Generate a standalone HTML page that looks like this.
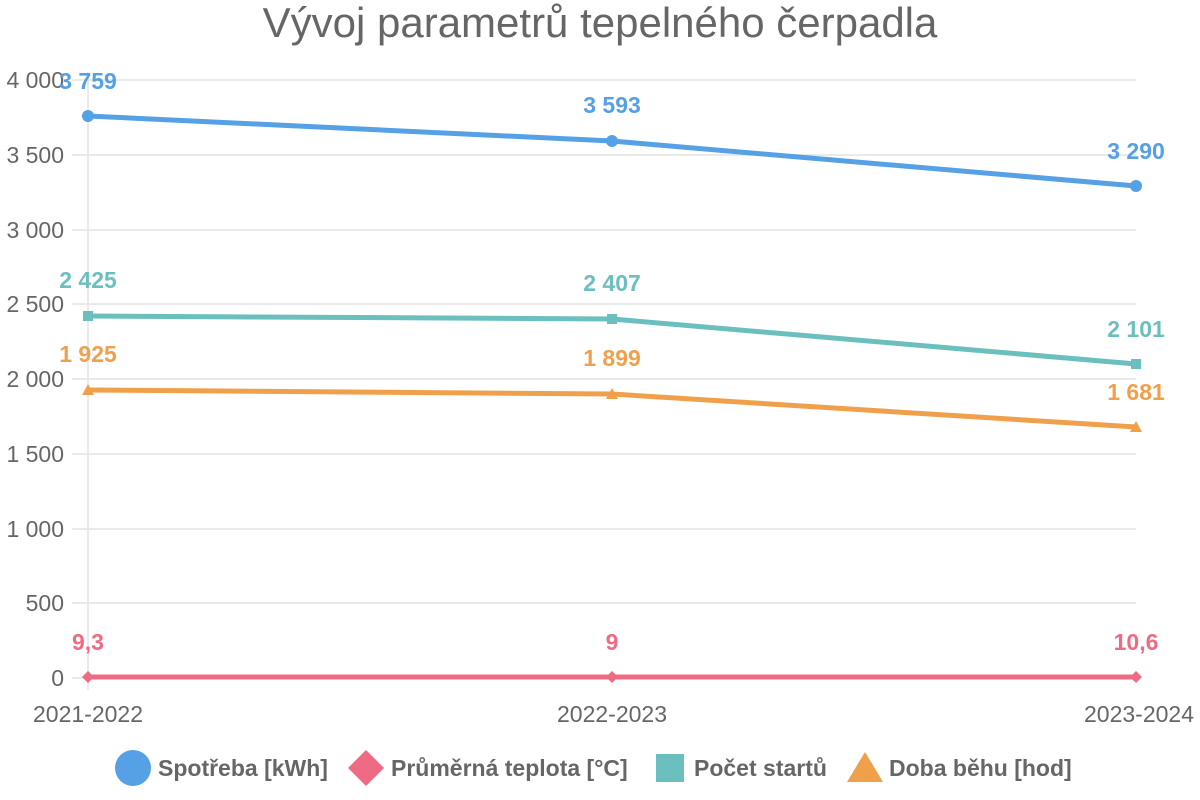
<!DOCTYPE html>
<html><head><meta charset="utf-8"><style>
html,body{margin:0;padding:0;background:#fff;}
svg{display:block;font-family:"Liberation Sans",sans-serif;}
</style></head><body>
<svg width="1200" height="800" viewBox="0 0 1200 800">
<text x="600" y="37" text-anchor="middle" font-size="42" fill="#666">Vývoj parametrů tepelného čerpadla</text>
<g stroke="#e4e4e4" stroke-width="1.5">
<line x1="72" y1="80" x2="1136" y2="80"/>
<line x1="72" y1="155" x2="1136" y2="155"/>
<line x1="72" y1="230" x2="1136" y2="230"/>
<line x1="72" y1="304" x2="1136" y2="304"/>
<line x1="72" y1="379" x2="1136" y2="379"/>
<line x1="72" y1="454" x2="1136" y2="454"/>
<line x1="72" y1="529" x2="1136" y2="529"/>
<line x1="72" y1="603" x2="1136" y2="603"/>
<line x1="72" y1="678" x2="1136" y2="678"/>
<line x1="88" y1="72" x2="88" y2="690"/>
</g>
<g font-size="23" fill="#666" text-anchor="end">
<text x="64" y="88">4 000</text>
<text x="64" y="163">3 500</text>
<text x="64" y="238">3 000</text>
<text x="64" y="312">2 500</text>
<text x="64" y="387">2 000</text>
<text x="64" y="462">1 500</text>
<text x="64" y="537">1 000</text>
<text x="64" y="611">500</text>
<text x="64" y="686">0</text>
</g>
<g font-size="23" fill="#666">
<text x="88" y="722" text-anchor="middle">2021-2022</text>
<text x="612" y="722" text-anchor="middle">2022-2023</text>
<text x="1194" y="722" text-anchor="end">2023-2024</text>
</g>
<g fill="none" stroke-width="5" stroke-linejoin="round">
<polyline points="88,116 612,141 1136,186" stroke="#56a0e5"/>
<polyline points="88,316 612,319 1136,364" stroke="#6bbfbf"/>
<polyline points="88,390 612,394 1136,427" stroke="#f0a04b"/>
<polyline points="88,677 612,677 1136,677" stroke="#ef6b84"/>
</g>
<g fill="#56a0e5"><circle cx="88" cy="116" r="6"/><circle cx="612" cy="141" r="6"/><circle cx="1136" cy="186" r="6"/></g>
<g fill="#6bbfbf"><rect x="83" y="311" width="10" height="10"/><rect x="607" y="314" width="10" height="10"/><rect x="1131" y="359" width="10" height="10"/></g>
<g fill="#f0a04b"><polygon points="88,384 94,395 82,395"/><polygon points="612,388 618,399 606,399"/><polygon points="1136,421 1142,432 1130,432"/></g>
<g fill="#ef6b84"><polygon points="88,671 94,677 88,683 82,677"/><polygon points="612,671 618,677 612,683 606,677"/><polygon points="1136,671 1142,677 1136,683 1130,677"/></g>
<g font-size="23" font-weight="bold" text-anchor="middle">
<g fill="#56a0e5"><text x="88" y="89">3 759</text><text x="612" y="113">3 593</text><text x="1136" y="159">3 290</text></g>
<g fill="#6bbfbf"><text x="88" y="288">2 425</text><text x="612" y="291">2 407</text><text x="1136" y="337">2 101</text></g>
<g fill="#f0a04b"><text x="88" y="362">1 925</text><text x="612" y="366">1 899</text><text x="1136" y="400">1 681</text></g>
<g fill="#ef6b84"><text x="88" y="650">9,3</text><text x="612" y="650">9</text><text x="1136" y="650">10,6</text></g>
</g>
<g font-size="23" font-weight="bold" fill="#666">
<circle cx="133" cy="768" r="18" fill="#56a0e5"/>
<text x="158" y="776">Spotřeba [kWh]</text>
<polygon points="366,750 384,768 366,786 348,768" fill="#ef6b84"/>
<text x="391" y="776">Průměrná teplota [°C]</text>
<rect x="656" y="754" width="28" height="28" fill="#6bbfbf"/>
<text x="694" y="776">Počet startů</text>
<polygon points="865,752 883,782 847,782" fill="#f0a04b"/>
<text x="889" y="776">Doba běhu [hod]</text>
</g>
</svg>
</body></html>
